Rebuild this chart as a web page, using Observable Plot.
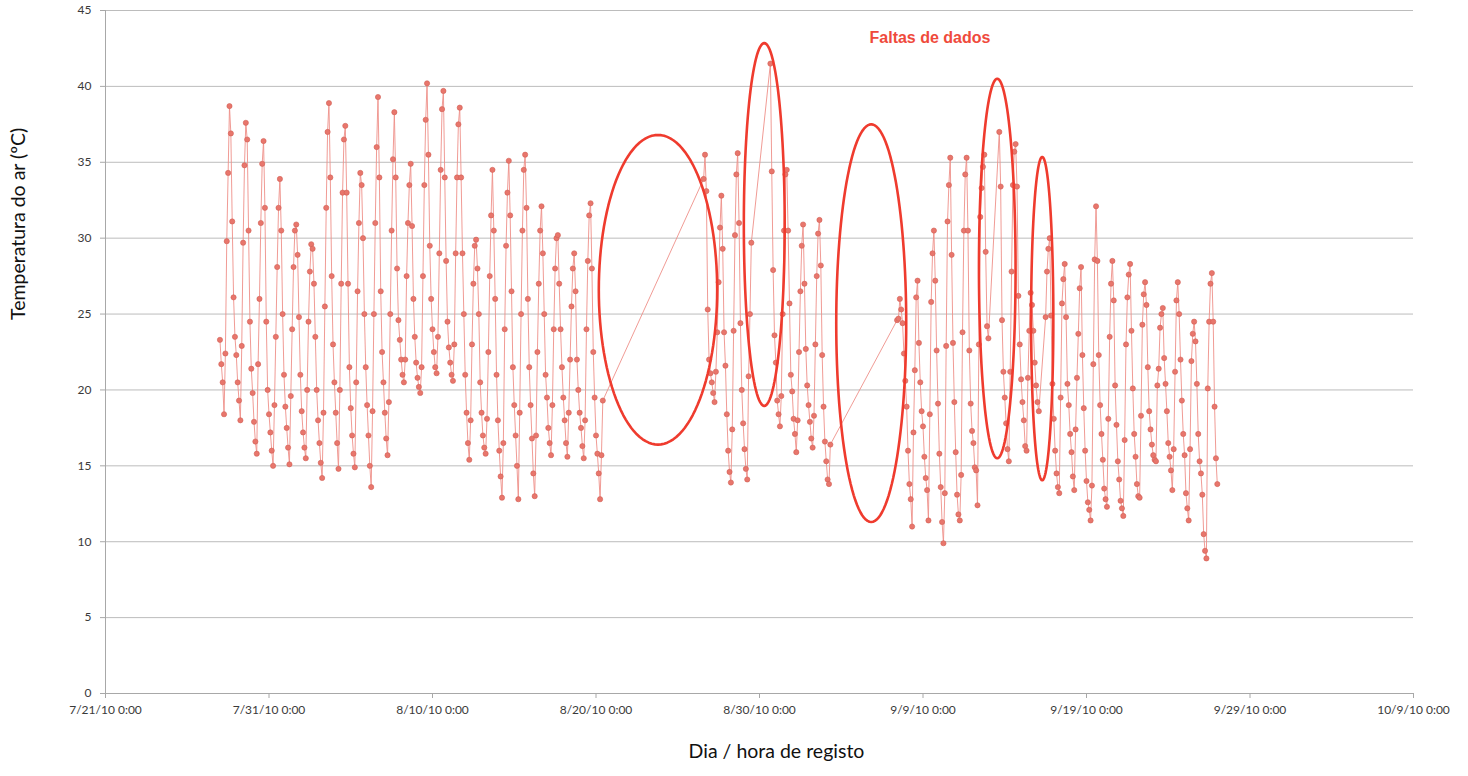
<!DOCTYPE html>
<html>
<head>
<meta charset="utf-8">
<script src="https://cdn.jsdelivr.net/npm/d3@7"></script>
<script src="https://cdn.jsdelivr.net/npm/@observablehq/plot@0.6"></script>
<style>
  html, body { margin: 0; padding: 0; background: #fff; }
  #chart svg { display: block; }
</style>
</head>
<body>
<div id="chart"></div>
<script>
// Readings every 2 hours (0h, 2h, ... 22h); null = no record (data gap)
const slotHours = [0, 2, 4, 6, 8, 10, 12, 14, 16, 18, 20, 22];

const julyFirstDay = "2010-07-28";
const julyTemps = [
  [23.3, 21.7, 20.5, 18.4, 22.4, 29.8, 34.3, 38.7, 36.9, 31.1, 26.1, 23.5],
  [22.3, 20.5, 19.3, 18.0, 22.9, 29.7, 34.8, 37.6, 36.5, 30.5, 24.5, 21.4],
  [19.8, 17.9, 16.6, 15.8, 21.7, 26.0, 31.0, 34.9, 36.4, 32.0, 24.5, 20.0],
  [18.4, 17.2, 16.0, 15.0, 19.0, 23.5, 28.1, 32.0, 33.9, 30.5, 25.0, 21.0]
];

const augustFirstDay = "2010-08-01";
const augustTemps = [
  [18.9, 17.5, 16.2, 15.1, 19.6, 24.0, 28.1, 30.5, 30.9, 28.9, 24.8, 21.0],
  [18.6, 17.2, 16.2, 15.5, 20.0, 24.5, 27.8, 29.6, 29.3, 27.0, 23.5, 20.0],
  [18.0, 16.5, 15.2, 14.2, 18.5, 25.5, 32.0, 37.0, 38.9, 34.0, 27.5, 23.0],
  [20.5, 18.5, 16.5, 14.8, 20.0, 27.0, 33.0, 36.5, 37.4, 33.0, 27.0, 21.5],
  [18.8, 17.0, 15.8, 14.9, 20.5, 26.5, 31.0, 34.3, 33.5, 30.0, 25.0, 21.5],
  [19.0, 17.0, 15.0, 13.6, 18.6, 25.0, 31.0, 36.0, 39.3, 34.0, 26.5, 22.5],
  [20.5, 18.5, 16.8, 15.7, 19.2, 25.0, 30.5, 35.2, 38.3, 34.0, 28.0, 24.6],
  [23.3, 22.0, 21.0, 20.5, 22.0, 27.5, 31.0, 33.5, 34.9, 30.8, 26.0, 23.5],
  [21.8, 20.8, 20.2, 19.8, 21.5, 27.5, 33.5, 37.8, 40.2, 35.5, 29.5, 26.0],
  [24.0, 22.5, 21.5, 21.1, 23.5, 29.0, 34.5, 38.5, 39.7, 34.0, 28.5, 24.5],
  [22.8, 21.8, 21.0, 20.6, 23.0, 29.0, 34.0, 37.5, 38.6, 34.0, 29.0, 25.0],
  [21.0, 18.5, 16.5, 15.4, 18.0, 23.0, 27.0, 29.5, 29.9, 28.0, 25.0, 20.5],
  [18.5, 17.0, 16.2, 15.8, 18.1, 22.5, 27.5, 31.5, 34.5, 30.5, 26.0, 21.0],
  [18.0, 16.0, 14.3, 12.9, 16.5, 24.0, 29.5, 33.0, 35.1, 31.5, 26.5, 21.5],
  [19.0, 17.0, 15.0, 12.8, 18.5, 25.0, 30.5, 34.5, 35.5, 32.0, 26.0, 21.5],
  [19.0, 16.8, 14.5, 13.0, 17.0, 22.5, 27.0, 30.5, 32.1, 29.0, 25.0, 21.0],
  [19.5, 17.5, 16.5, 15.7, 19.0, 24.0, 28.0, 30.0, 30.2, 27.0, 24.0, 21.5],
  [19.5, 18.0, 16.5, 15.6, 18.5, 22.0, 25.5, 28.0, 29.0, 26.5, 22.0, 20.0],
  [18.5, 17.5, 16.3, 15.5, 18.0, 24.0, 28.5, 31.5, 32.3, 28.0, 22.5, 19.5],
  [17.0, 15.8, 14.5, 12.8, 15.7, 19.3, null, null, null, null, null, null],
  [null, null, null, null, null, null, null, null, null, null, null, null],
  [null, null, null, null, null, null, null, null, null, null, null, null],
  [null, null, null, null, null, null, null, null, null, null, null, null],
  [null, null, null, null, null, null, null, null, null, null, null, null],
  [null, null, null, null, null, null, null, null, null, null, null, null],
  [null, null, null, null, null, null, null, 33.9, 35.5, 33.1, 25.3, 22.0],
  [21.1, 20.5, 19.8, 19.2, 21.2, 23.8, 27.1, 30.7, 32.8, 29.3, 23.8, 21.6],
  [18.4, 16.0, 14.6, 13.9, 17.4, 23.9, 30.2, 34.2, 35.6, 31.0, 24.4, 20.0],
  [17.8, 16.1, 14.8, 14.1, 20.9, 25.0, 29.7, null, null, null, null, null],
  [null, null, null, null, null, null, null, null, 41.5, 34.4, 27.9, 23.6],
  [21.8, 19.3, 18.4, 17.6, 19.6, 25.0, 30.5, 34.2, 34.5, 30.5, 25.7, 21.0]
];

const septemberFirstDay = "2010-09-01";
const septemberTemps = [
  [19.9, 18.1, 17.1, 15.9, 18.0, 22.5, 26.5, 29.5, 30.9, 27.0, 22.7, 20.3],
  [19.0, 17.9, 16.8, 16.2, 18.3, 23.0, 27.5, 30.3, 31.2, 28.2, 22.3, 18.9],
  [16.6, 15.3, 14.1, 13.8, 16.4, null, null, null, null, null, null, null],
  [null, null, null, null, null, null, null, null, null, null, null, null],
  [null, null, null, null, null, null, null, null, null, null, null, null],
  [null, null, null, null, null, null, null, null, null, null, null, null],
  [null, null, null, null, null, 24.6, 24.7, 26.0, 25.3, 24.4, 22.4, 20.6],
  [18.9, 16.0, 13.8, 12.8, 11.0, 17.2, 21.3, 26.1, 27.2, 23.1, 20.5, 18.6],
  [17.6, 15.6, 14.2, 13.4, 11.4, 18.4, 25.8, 29.0, 30.5, 27.2, 22.6, 19.1],
  [15.8, 13.6, 11.3, 9.9, 13.2, 22.9, 31.1, 33.5, 35.3, 28.9, 23.1, 19.2],
  [15.9, 13.1, 11.8, 11.4, 14.4, 23.8, 30.5, 34.2, 35.3, 30.5, 22.6, 19.1],
  [17.3, 16.5, 14.9, 14.7, 12.4, 23.0, 31.4, 33.3, 34.7, 35.5, 29.1, 24.2],
  [23.4, null, null, null, null, null, null, null, 37.0, 33.4, 24.6, 21.2],
  [19.5, 17.8, 16.1, 15.3, 21.2, 27.8, 33.5, 35.7, 36.2, 33.4, 26.2, 23.0],
  [20.7, 19.2, 18.0, 16.3, 16.0, 20.8, 23.9, 26.4, 25.6, 23.9, 21.8, 20.3],
  [19.2, 18.6, null, null, null, null, 24.8, 27.8, 29.3, 30.0, 24.9, 20.4],
  [18.1, 16.0, 14.5, 13.6, 13.2, 19.5, 25.7, 27.3, 28.3, 24.8, 20.4, 19.0],
  [17.1, 15.9, 14.3, 13.4, 17.4, 20.8, 23.7, 26.7, 28.1, 22.3, 18.8, 16.0],
  [14.0, 12.6, 12.1, 11.4, 13.7, 21.7, 28.6, 32.1, 28.5, 22.3, 19.0, 17.1],
  [15.4, 13.5, 12.8, 12.3, 18.1, 23.5, 27.0, 28.5, 25.9, 20.3, 17.7, 15.3],
  [14.1, 12.7, 12.2, 11.7, 16.7, 23.0, 26.1, 27.6, 28.3, 23.9, 20.1, 17.1],
  [15.6, 13.8, 13.0, 12.9, 18.3, 24.3, 26.3, 27.1, 25.6, 21.5, 18.6, 17.4],
  [16.4, 15.7, 15.4, 15.3, 20.3, 21.4, 24.1, 25.0, 25.4, 22.1, 20.4, 18.6],
  [16.5, 15.6, 14.7, 13.4, 16.1, 21.2, 25.9, 27.1, 25.0, 22.0, 19.3, 17.1],
  [15.7, 13.2, 12.2, 11.4, 16.1, 21.9, 23.7, 24.5, 23.2, 20.4, 17.1, 15.3],
  [14.5, 13.1, 10.5, 9.4, 8.9, 20.1, 24.5, 27.0, 27.7, 24.5, 18.9, 15.5],
  [13.8]
];

// Axes
const xTickDates = ["2010-07-21", "2010-07-31", "2010-08-10", "2010-08-20", "2010-08-30",
                    "2010-09-09", "2010-09-19", "2010-09-29", "2010-10-09"];
const yTicks = [0, 5, 10, 15, 20, 25, 30, 35, 40, 45];
const xTitle = "Dia / hora de registo";
const yTitle = "Temperatura do ar (ºC)";

// "Faltas de dados" annotation: ellipses around the gaps (center time, center temp, half width in days, half height in ºC)
const noteText = "Faltas de dados";
const noteAt = ["2010-09-05T17:30:00Z", 43.2];
const gapCenterTimes = ["2010-08-23T19:00:00Z", "2010-08-30T07:00:00Z", "2010-09-05T20:00:00Z",
                        "2010-09-13T13:00:00Z", "2010-09-16T07:00:00Z"];
const gapCenterTemps = [26.6, 30.9, 24.4, 28.0, 24.7];
const gapHalfDays = [3.62, 1.25, 2.14, 1.12, 0.68];
const gapHalfDegrees = [10.2, 11.95, 13.1, 12.5, 10.65];

// Build the point table
const HOUR = 3600 * 1000, DAY = 24 * HOUR;
function monthRows(firstDay, rows) {
  const t0 = new Date(firstDay + "T00:00:00Z").getTime();
  const out = [];
  rows.forEach((row, i) => row.forEach((v, j) => {
    if (v != null) out.push({date: new Date(t0 + i * DAY + slotHours[j] * HOUR), temp: v});
  }));
  return out;
}
const points = [
  ...monthRows(julyFirstDay, julyTemps),
  ...monthRows(augustFirstDay, augustTemps),
  ...monthRows(septemberFirstDay, septemberTemps)
];

const ellipsePoints = [];
gapCenterTimes.forEach((c, k) => {
  const tc = new Date(c).getTime();
  for (let a = 0; a <= 120; a++) {
    const th = (a / 120) * 2 * Math.PI;
    ellipsePoints.push({
      id: k,
      date: new Date(tc + gapHalfDays[k] * DAY * Math.cos(th)),
      temp: gapCenterTemps[k] + gapHalfDegrees[k] * Math.sin(th)
    });
  }
});

const xTicks = xTickDates.map(d => new Date(d + "T00:00:00Z"));
const fmt = d3.utcFormat("%-m/%-d/%y %-H:%M");
const axisGray = "#a8a8a8";

const chart = Plot.plot({
  width: 1468,
  height: 776,
  marginLeft: 105,
  marginRight: 55,
  marginTop: 10,
  marginBottom: 83,
  style: {fontFamily: "Lato, 'Open Sans', sans-serif", fontSize: "12px", color: "#3a3a3a", background: "#fff"},
  x: {type: "utc", domain: [xTicks[0], xTicks[xTicks.length - 1]]},
  y: {domain: [0, 45]},
  marks: [
    Plot.gridY({ticks: yTicks, stroke: "#bcbcbc", strokeOpacity: 1}),
    Plot.axisY({ticks: yTicks, tickSize: 5, tickPadding: 9, stroke: axisGray, fill: "#3a3a3a", label: null}),
    Plot.axisX({ticks: xTicks, tickSize: 5, tickPadding: 7, tickFormat: fmt, stroke: axisGray, fill: "#3a3a3a", label: null}),
    Plot.ruleX([xTicks[0]], {stroke: axisGray}),
    Plot.ruleY([0], {stroke: axisGray}),
    Plot.line(points, {x: "date", y: "temp", stroke: "#ee9089", strokeWidth: 0.9}),
    Plot.dot(points, {x: "date", y: "temp", r: 2.6, fill: "#e8766c", stroke: "#d25f56", strokeWidth: 0.6}),
    Plot.line(ellipsePoints, {x: "date", y: "temp", z: "id", stroke: "#ef3b2e", strokeWidth: 2.6, curve: "linear"}),
    Plot.text([noteText], {x: () => new Date(noteAt[0]), y: () => noteAt[1], textAnchor: "start",
      fontFamily: "'Liberation Sans', Arial, sans-serif", fontWeight: "bold", fontSize: 16, fill: "#ef4a3c"}),
    Plot.text([yTitle], {frameAnchor: "left", dx: -87, dy: -32, rotate: -90, fontSize: 19.5, fill: "#111"}),
    Plot.text([xTitle], {frameAnchor: "bottom", dx: 17, dy: 64, fontSize: 19.5, fill: "#111"})
  ]
});
document.getElementById("chart").appendChild(chart);
</script>
</body>
</html>
